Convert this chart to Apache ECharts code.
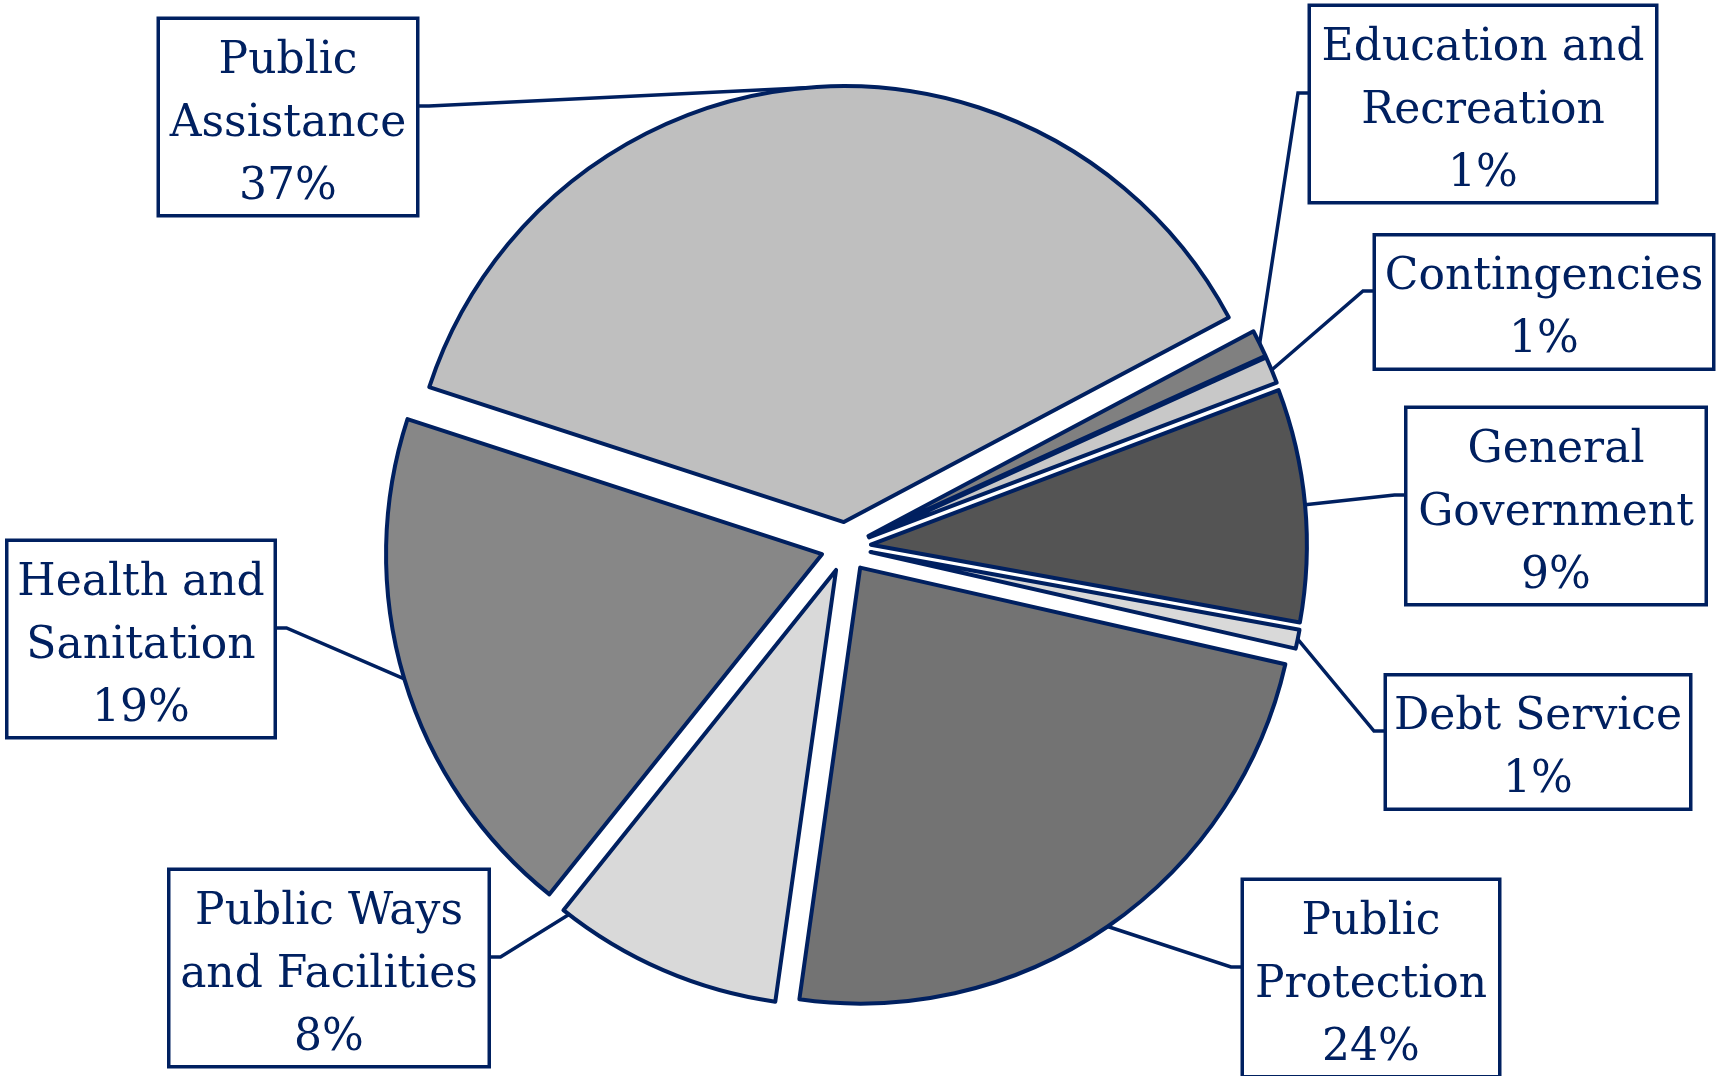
<!DOCTYPE html>
<html>
<head>
<meta charset="utf-8">
<script src="https://cdn.jsdelivr.net/npm/echarts@6/dist/echarts.min.js"></script>
<style>
  html, body { margin: 0; background: #fff; }
  #main { width: 1723px; height: 1076px; }
</style>
</head>
<body>
<div id="main"></div>
<script>
// slices in clockwise order, starting at the right edge of Public Assistance
const categories = ['Education and\nRecreation', 'Contingencies', 'General\nGovernment', 'Debt Service',
                    'Public\nProtection', 'Public Ways\nand Facilities', 'Health and\nSanitation', 'Public\nAssistance']
const values = [1.0, 1.0, 8.6, 0.7, 23.6, 8.5, 19.2, 37.1]
const shares = [1, 1, 9, 1, 24, 8, 19, 37]
const fills = ['#808080', '#c8c8c8', '#545454', '#d9d9d9', '#737373', '#d9d9d9', '#878787', '#bfbfbf']

// label boxes: centre, width, which side of the box the leader joins (1 = left edge, -1 = right edge)
const boxes = [
    { cx: 1483, cy: 104, w: 344, side: 1 },
    { cx: 1544, cy: 302, w: 336, side: 1 },
    { cx: 1556, cy: 506, w: 297, side: 1 },
    { cx: 1538, cy: 742, w: 302, side: 1 },
    { cx: 1371, cy: 978, w: 254, side: 1 },
    { cx: 329, cy: 968, w: 317, side: -1, anchor: 0.97 },
    { cx: 141, cy: 639, w: 265, side: -1 },
    { cx: 288, cy: 117, w: 256, side: -1 }
]

const NAVY = '#002060'
const LH = 63, PADTOP = 10
const pieCx = 846, pieCy = 547, pieR = 436, explode = 25, startAngle = 28

const total = values.reduce((a, b) => a + b, 0)
let acc = 0
const arcs = values.map(v => {
    const a0 = startAngle - acc / total * 360
    acc += v
    return [a0, startAngle - acc / total * 360]
})

const series = categories.map((name, k) => {
    const mid = (arcs[k][0] + arcs[k][1]) / 2 * Math.PI / 180
    const cx = pieCx + explode * Math.cos(mid)
    const cy = pieCy - explode * Math.sin(mid)
    const b = boxes[k]
    const text = name + '\n' + shares[k] + '%'
    const boxH = text.split('\n').length * LH + 5
    return {
        type: 'pie',
        center: [cx, cy],
        radius: pieR,
        startAngle: startAngle,
        clockwise: true,
        avoidLabelOverlap: false,
        animation: false,
        silent: true,
        emphasis: { disabled: true },
        label: { show: false },
        labelLine: { show: false },
        data: categories.map((n, i) => i === k ? {
            name: n,
            value: values[i],
            itemStyle: { color: fills[i], borderColor: NAVY, borderWidth: 4 },
            label: {
                show: true,
                position: 'outside',
                formatter: text,
                fontFamily: 'DejaVu Serif',
                fontSize: 44,
                lineHeight: LH,
                color: NAVY,
                backgroundColor: '#fff',
                borderColor: NAVY,
                borderWidth: 3.5,
                padding: [PADTOP, 0, 0, 0],
                width: b.w,
                height: boxH - PADTOP,
                align: 'center'
            },
            labelLine: { show: true, lineStyle: { color: NAVY, width: 3.5 } }
        } : {
            name: n,
            value: values[i],
            itemStyle: { color: 'rgba(0,0,0,0)', borderWidth: 0 }
        }),
        labelLayout: function (p) {
            if (p.dataIndex !== k) return {}
            const t = b.anchor != null ? b.anchor : 0.5
            const a = (arcs[k][0] + (arcs[k][1] - arcs[k][0]) * t) * Math.PI / 180
            const p0 = [cx + pieR * Math.cos(a), cy - pieR * Math.sin(a)]
            const edgeX = b.cx - b.side * b.w / 2
            const ay = b.cy - 11
            return {
                x: b.cx,
                y: b.cy - boxH / 2,
                align: 'center',
                verticalAlign: 'top',
                labelLinePoints: [p0, [edgeX - b.side * 13, ay], [edgeX, ay]]
            }
        }
    }
})

const myChart = echarts.init(document.getElementById('main'))
myChart.setOption({
    backgroundColor: '#fff',
    series: series
})
</script>
</body>
</html>
